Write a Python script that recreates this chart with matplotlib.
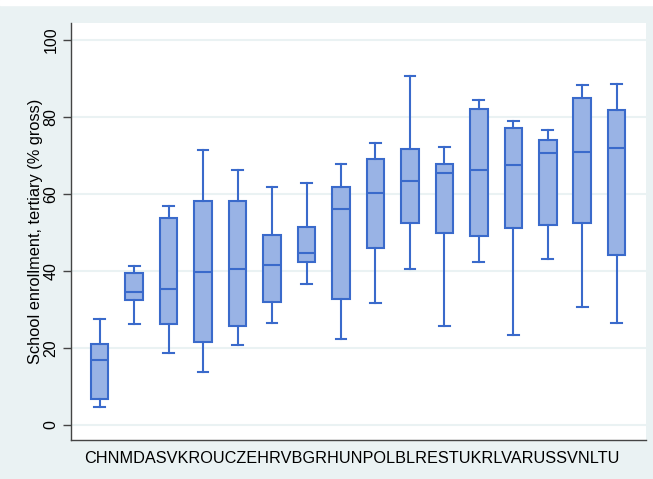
import matplotlib.pyplot as plt
from matplotlib.patches import Rectangle

plt.rcParams['font.family'] = ['Liberation Sans', 'DejaVu Sans']

countries = ["CHN", "MDA", "SVK", "ROU", "CZE", "HRV", "BGR", "HUN",
             "POL", "BLR", "EST", "UKR", "LVA", "RUS", "SVN", "LTU"]
whislo = [4.8, 26.1, 18.8, 13.7, 20.8, 26.5, 36.7, 22.4, 31.8, 40.6, 25.6, 42.4, 23.4, 43.2, 30.6, 26.5]
q1 = [6.7, 32.5, 26.2, 21.6, 25.8, 31.9, 42.3, 32.8, 45.9, 52.4, 49.9, 49.0, 51.1, 52.0, 52.5, 44.2]
med = [16.9, 34.5, 35.2, 39.7, 40.6, 41.6, 44.6, 56.1, 60.2, 63.3, 65.4, 66.1, 67.6, 70.7, 70.9, 72.0]
q3 = [21.1, 39.6, 53.8, 58.3, 58.2, 49.4, 51.5, 61.8, 69.0, 71.6, 67.9, 82.0, 77.2, 74.1, 84.9, 81.9]
whishi = [27.5, 41.4, 57.0, 71.4, 66.1, 61.8, 62.9, 67.8, 73.2, 90.6, 72.2, 84.3, 79.0, 76.5, 88.4, 88.6]
yticks = [0, 20, 40, 60, 80, 100]

bg = "#EAF2F3"
edge = "#3A6ACB"
fill = "#99B3E5"

fig = plt.figure(figsize=(6.53, 4.79), dpi=100, facecolor=bg)
fig.patches.append(Rectangle((0, 1 - 5 / 479), 1, 5 / 479, transform=fig.transFigure,
                             color="white", zorder=0))
ax = fig.add_axes([71 / 653, 1 - 440 / 479, 575 / 653, 417 / 479])
ax.set_facecolor("white")

stats = [dict(label=c, whislo=a, q1=b, med=m, q3=d, whishi=e)
         for c, a, b, m, d, e in zip(countries, whislo, q1, med, q3, whishi)]
lw = 1.5
ax.bxp(stats, positions=range(1, len(stats) + 1), widths=0.51, patch_artist=True,
       showfliers=False,
       boxprops=dict(facecolor=fill, edgecolor=edge, linewidth=lw),
       medianprops=dict(color=edge, linewidth=lw),
       whiskerprops=dict(color=edge, linewidth=lw),
       capprops=dict(color=edge, linewidth=lw), capwidths=0.31)

ax.set_xlim(0.167, 16.85)
ax.set_ylim(-3.9, 104.4)
ax.set_yticks(yticks)
ax.set_yticklabels([str(t) for t in yticks], rotation=90, va="center")
ax.set_xticks([])
ax.yaxis.grid(True, color=bg, linewidth=1.5)
ax.set_axisbelow(True)
for s in ["top", "right"]:
    ax.spines[s].set_visible(False)
for s in ["left", "bottom"]:
    ax.spines[s].set_color("#444444")
    ax.spines[s].set_linewidth(1.0)
ax.tick_params(axis="y", length=6, width=1.0, color="#444444", labelsize=11.5, pad=3)
ax.set_ylabel("School enrollment, tertiary (% gross)", fontsize=11.8, labelpad=0)

# category names run together under the axis
fig.text(352 / 653, 1 - 463 / 479, "".join(countries), ha="center", va="baseline",
         fontsize=11.7)

fig.savefig("out.png", dpi=100, facecolor=bg)
